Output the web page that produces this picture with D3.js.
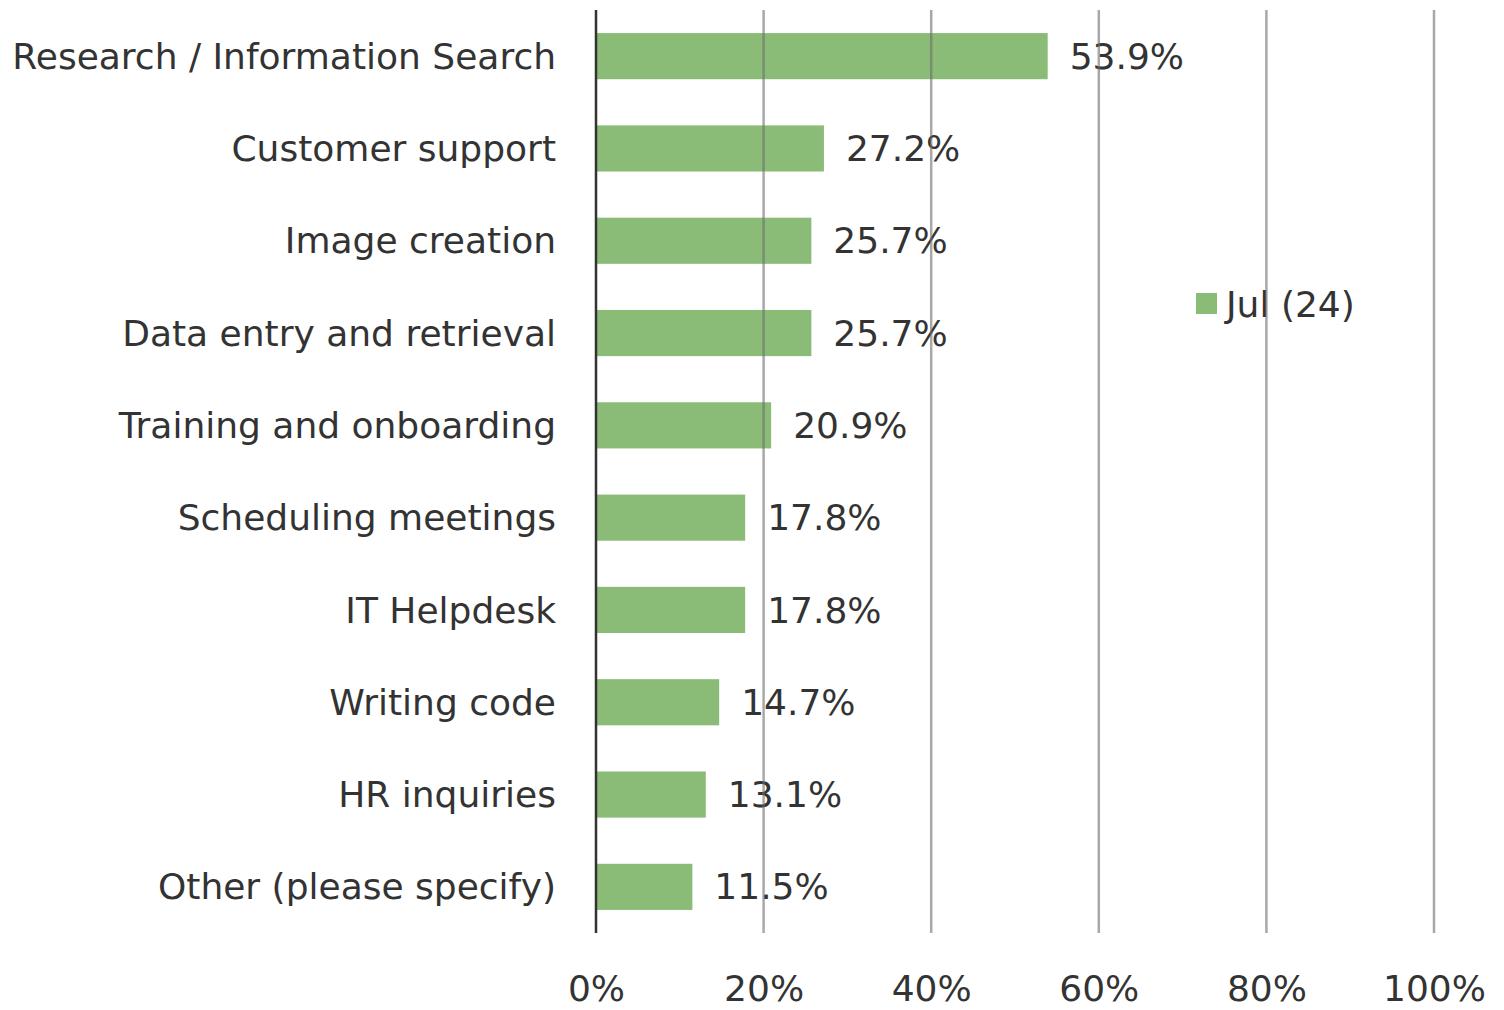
<!DOCTYPE html>
<html><head><meta charset="utf-8">
<script src="https://cdn.jsdelivr.net/npm/d3@7"></script>
<style>
body{margin:0;background:#fff;}
text{font-family:"DejaVu Sans",sans-serif;fill:#333;}
</style></head>
<body>
<svg id="chart" width="1504" height="1010"></svg>
<script>
const categories = ["Research / Information Search","Customer support","Image creation","Data entry and retrieval","Training and onboarding","Scheduling meetings","IT Helpdesk","Writing code","HR inquiries","Other (please specify)"];
const values = [53.9,27.2,25.7,25.7,20.9,17.8,17.8,14.7,13.1,11.5];
const tickValues = [0,20,40,60,80,100];
const seriesName = "Jul (24)";

const svg = d3.select("#chart");
const x = d3.scaleLinear().domain([0,100]).range([596,1434]);
const y = d3.scaleBand().domain(categories).range([10,933]).paddingInner(0.5).paddingOuter(0.25);
const fs = 36;

// bars
svg.selectAll("rect.bar").data(values).join("rect")
  .attr("x", x(0)).attr("y",(d,i)=>y(categories[i]))
  .attr("width", d=>x(d)-x(0)).attr("height", y.bandwidth())
  .attr("fill","#8abc78");

// category labels
svg.selectAll("text.cat").data(categories).join("text")
  .attr("x",556).attr("y",d=>y(d)+y.bandwidth()/2)
  .attr("dy","0.35em").attr("text-anchor","end")
  .style("font-size",fs+"px").text(d=>d);

// value labels
svg.selectAll("text.val").data(values).join("text")
  .attr("x",d=>x(d)+22).attr("y",(d,i)=>y(categories[i])+y.bandwidth()/2)
  .attr("dy","0.35em").style("font-size",fs+"px").text(d=>d.toFixed(1)+"%");

// tick labels
const ax = svg.append("g").attr("transform","translate(0,988)")
  .call(d3.axisBottom(x).tickValues(tickValues).tickFormat(d=>d+"%").tickSize(0).tickPadding(0));
ax.select(".domain").remove();
ax.selectAll("text").attr("dy","0.35em").attr("y",0).style("font-size",fs+"px").attr("font-family",null).attr("fill",null);

// legend
svg.append("rect").attr("x",1196).attr("y",293).attr("width",21).attr("height",21).attr("fill","#8abc78");
svg.append("text").attr("x",1226).attr("y",304).attr("dy","0.35em").style("font-size",fs+"px").text(seriesName);

// gridlines (drawn on top, as in reference)
svg.selectAll("line.grid").data(tickValues.slice(1)).join("line")
  .attr("x1",d=>x(d)).attr("x2",d=>x(d)).attr("y1",10).attr("y2",933)
  .attr("stroke","rgba(110,110,110,0.6)").attr("stroke-width",2.5);
// axis line
svg.append("line").attr("x1",x(0)).attr("x2",x(0)).attr("y1",10).attr("y2",933)
  .attr("stroke","#333").attr("stroke-width",2.5);
</script>
</body></html>
